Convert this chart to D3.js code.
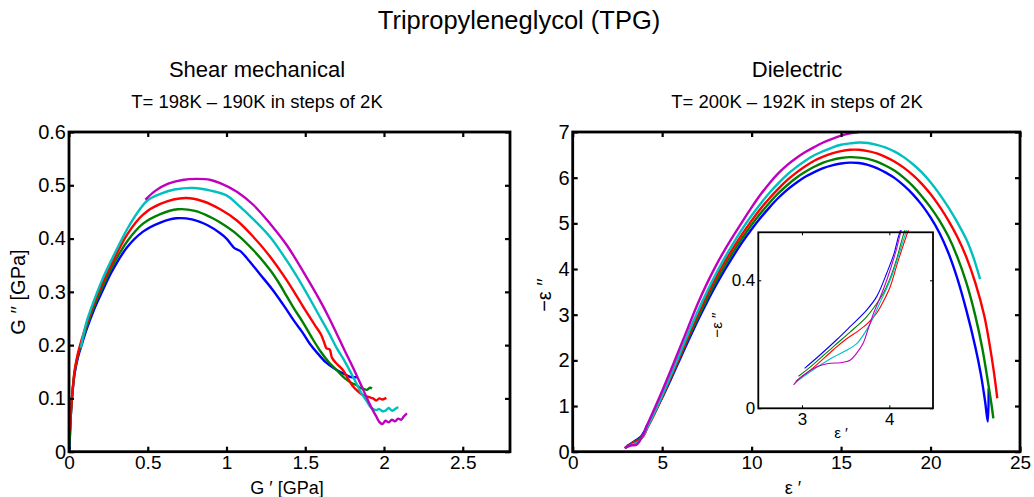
<!DOCTYPE html>
<html>
<head>
<meta charset="utf-8">
<script src="https://cdn.jsdelivr.net/npm/d3@7/dist/d3.min.js"></script>
<style>
  body { margin: 0; background: #fff; }
  svg { display: block; }
  text { font-family: "Liberation Sans", Arial, Helvetica, sans-serif; fill: #000; }
</style>
</head>
<body>
<svg id="chart" width="1034" height="497"></svg>
<script>
// matlab default line order
var seriesColors = ["#0000ff", "#008000", "#ff0000", "#00bfbf", "#bf00bf"];

// ---- shear mechanical: [G', G''] in GPa, T = 198K - 190K ----
var shearBlue = [[0.003,0.004],[0.006,0.03],[0.012,0.07],[0.022,0.11],[0.035,0.145],[0.055,0.175],[0.08,0.2],[0.11,0.228],[0.158,0.266],[0.21,0.3],[0.27,0.337],[0.37,0.384],[0.47,0.413],[0.58,0.43],[0.68,0.438],[0.78,0.436],[0.88,0.425],[0.96,0.41],[1.0,0.4],[1.03,0.389],[1.05,0.382],[1.09,0.376],[1.13,0.363],[1.21,0.334],[1.29,0.305],[1.36,0.276],[1.43,0.245],[1.48,0.225],[1.53,0.202],[1.58,0.184],[1.63,0.168],[1.68,0.157],[1.72,0.15],[1.76,0.144],[1.79,0.14],[1.83,0.14]];
var shearGreen = [[0.003,0.012],[0.007,0.04],[0.013,0.075],[0.023,0.115],[0.036,0.15],[0.056,0.18],[0.08,0.205],[0.11,0.233],[0.158,0.272],[0.21,0.307],[0.27,0.345],[0.37,0.395],[0.47,0.428],[0.58,0.446],[0.69,0.455],[0.8,0.452],[0.9,0.44],[0.96,0.43],[1.066,0.408],[1.171,0.378],[1.277,0.341],[1.33,0.318],[1.382,0.292],[1.43,0.268],[1.487,0.242],[1.54,0.215],[1.593,0.19],[1.65,0.168],[1.7,0.153],[1.75,0.138],[1.8,0.128],[1.82,0.126],[1.85,0.12],[1.87,0.118],[1.89,0.116],[1.91,0.12],[1.924,0.119]];
var shearRed = [[0.006,0.04],[0.013,0.08],[0.024,0.12],[0.037,0.155],[0.057,0.185],[0.08,0.21],[0.11,0.238],[0.158,0.278],[0.21,0.315],[0.27,0.352],[0.37,0.408],[0.47,0.445],[0.58,0.465],[0.74,0.476],[0.85,0.47],[0.96,0.455],[1.066,0.434],[1.171,0.403],[1.277,0.366],[1.382,0.322],[1.487,0.272],[1.56,0.238],[1.6,0.22],[1.62,0.205],[1.635,0.194],[1.655,0.192],[1.67,0.176],[1.7,0.165],[1.74,0.153],[1.77,0.138],[1.8,0.124],[1.84,0.112],[1.87,0.106],[1.9,0.103],[1.93,0.1],[1.95,0.096],[1.97,0.1],[1.99,0.098],[2.015,0.101]];
var shearCyan = [[0.075,0.195],[0.11,0.242],[0.158,0.283],[0.21,0.322],[0.27,0.36],[0.37,0.418],[0.45,0.455],[0.5,0.472],[0.58,0.484],[0.67,0.492],[0.79,0.495],[0.9,0.49],[1.0,0.481],[1.066,0.465],[1.171,0.436],[1.277,0.403],[1.382,0.359],[1.487,0.309],[1.593,0.253],[1.65,0.223],[1.699,0.195],[1.75,0.17],[1.79,0.148],[1.83,0.125],[1.86,0.108],[1.89,0.095],[1.92,0.082],[1.95,0.078],[1.97,0.08],[1.99,0.076],[2.01,0.077],[2.03,0.082],[2.05,0.077],[2.07,0.08],[2.09,0.084]];
var shearMagenta = [[0.485,0.473],[0.55,0.49],[0.63,0.503],[0.72,0.51],[0.81,0.512],[0.9,0.51],[0.96,0.504],[1.066,0.488],[1.171,0.463],[1.277,0.428],[1.382,0.388],[1.487,0.338],[1.593,0.284],[1.65,0.252],[1.699,0.222],[1.75,0.19],[1.8,0.16],[1.85,0.128],[1.888,0.103],[1.92,0.083],[1.951,0.066],[1.97,0.056],[1.99,0.052],[2.01,0.058],[2.03,0.055],[2.05,0.06],[2.07,0.057],[2.09,0.062],[2.11,0.06],[2.125,0.066],[2.146,0.072]];

// ---- dielectric: [eps', -eps''], T = 200K - 192K ----
// low part (what the inset zooms into)
var dielLowBlue = [[3.03,0.125],[3.2,0.165],[3.4,0.215],[3.55,0.255],[3.74,0.307],[3.855,0.349],[3.97,0.422],[4.05,0.48],[4.12,0.55]];
var dielLowGreen = [[2.96,0.1],[3.1,0.13],[3.36,0.193],[3.55,0.238],[3.74,0.286],[3.85,0.325],[3.93,0.359],[4.0,0.4],[4.08,0.463],[4.17,0.55]];
var dielLowRed = [[2.93,0.085],[3.1,0.12],[3.36,0.183],[3.5,0.215],[3.66,0.245],[3.76,0.268],[3.855,0.297],[3.93,0.333],[4.01,0.38],[4.1,0.46],[4.21,0.55]];
var dielLowCyan = [[2.92,0.08],[3.1,0.115],[3.36,0.16],[3.5,0.18],[3.63,0.203],[3.74,0.245],[3.82,0.285],[3.89,0.328],[3.97,0.375],[4.04,0.422],[4.12,0.49],[4.19,0.55]];
var dielLowMagenta = [[2.904,0.073],[3.0,0.1],[3.17,0.13],[3.3,0.14],[3.44,0.1425],[3.55,0.15],[3.62,0.17],[3.7,0.203],[3.76,0.25],[3.82,0.297],[3.9,0.35],[3.97,0.4],[4.08,0.495],[4.13,0.55]];
// rest of the arc
var dielBlue = [[4.5,0.8],[5.0,1.18],[5.5,1.6],[6.0,2.03],[6.5,2.46],[7.0,2.88],[7.5,3.27],[8.0,3.64],[8.5,3.98],[9.0,4.3],[9.5,4.6],[10.0,4.87],[10.5,5.12],[11.0,5.35],[11.5,5.56],[12.0,5.74],[12.5,5.89],[13.0,6.02],[13.5,6.12],[14.0,6.21],[14.5,6.27],[15.0,6.31],[15.5,6.33],[16.0,6.32],[16.5,6.28],[17.0,6.21],[17.5,6.11],[18.0,5.99],[18.5,5.83],[19.0,5.64],[19.5,5.41],[20.0,5.13],[20.5,4.79],[21.0,4.35],[21.5,3.79],[22.0,3.1],[22.5,2.3],[22.8,1.72],[23.05,1.1],[23.2,0.66],[23.25,1.39]];
var dielGreen = [[4.5,0.79],[5.0,1.2],[5.5,1.64],[6.0,2.08],[6.5,2.52],[7.0,2.94],[7.5,3.34],[8.0,3.72],[8.5,4.07],[9.0,4.39],[9.5,4.69],[10.0,4.97],[10.5,5.22],[11.0,5.45],[11.5,5.66],[12.0,5.84],[12.5,6.0],[13.0,6.13],[13.5,6.24],[14.0,6.33],[14.5,6.39],[15.0,6.43],[15.5,6.45],[16.0,6.44],[16.5,6.41],[17.0,6.35],[17.5,6.26],[18.0,6.15],[18.5,6.0],[19.0,5.82],[19.5,5.6],[20.0,5.35],[20.5,5.06],[21.0,4.71],[21.5,4.26],[22.0,3.7],[22.5,2.98],[22.9,2.25],[23.2,1.55],[23.4,1.05],[23.51,0.73]];
var dielRed = [[4.5,0.77],[5.0,1.2],[5.5,1.65],[6.0,2.11],[6.5,2.57],[7.0,3.01],[7.5,3.43],[8.0,3.81],[8.5,4.16],[9.0,4.48],[9.5,4.78],[10.0,5.06],[10.5,5.32],[11.0,5.55],[11.5,5.76],[12.0,5.95],[12.5,6.11],[13.0,6.25],[13.5,6.37],[14.0,6.46],[14.5,6.53],[15.0,6.58],[15.5,6.61],[16.0,6.61],[16.5,6.58],[17.0,6.53],[17.5,6.45],[18.0,6.35],[18.5,6.22],[19.0,6.06],[19.5,5.87],[20.0,5.64],[20.5,5.37],[21.0,5.06],[21.5,4.7],[22.0,4.26],[22.5,3.7],[23.0,2.98],[23.3,2.35],[23.55,1.72],[23.73,1.17]];
var dielCyan = [[4.5,0.8],[5.0,1.23],[5.5,1.69],[6.0,2.16],[6.5,2.63],[7.0,3.08],[7.5,3.5],[8.0,3.89],[8.5,4.25],[9.0,4.58],[9.5,4.89],[10.0,5.17],[10.5,5.43],[11.0,5.67],[11.5,5.88],[12.0,6.07],[12.5,6.23],[13.0,6.37],[13.5,6.49],[14.0,6.58],[14.5,6.66],[15.0,6.72],[15.5,6.75],[16.0,6.77],[16.5,6.76],[17.0,6.72],[17.5,6.66],[18.0,6.57],[18.5,6.45],[19.0,6.3],[19.5,6.12],[20.0,5.9],[20.5,5.64],[21.0,5.35],[21.5,5.02],[22.0,4.65],[22.4,4.25],[22.77,3.78]];
var dielMagenta = [[4.5,0.88],[5.0,1.33],[5.5,1.8],[6.0,2.28],[6.5,2.77],[7.0,3.25],[7.5,3.68],[8.0,4.07],[8.5,4.42],[9.0,4.74],[9.5,5.05],[10.0,5.35],[10.5,5.63],[11.0,5.88],[11.5,6.1],[12.0,6.28],[12.5,6.43],[13.0,6.56],[13.5,6.67],[14.0,6.77],[14.5,6.85],[15.0,6.92],[15.5,6.97],[16.0,7.0]];

// ---- ticks ----
var shearXTicks = [0, 0.5, 1, 1.5, 2, 2.5];
var shearYTicks = [0, 0.1, 0.2, 0.3, 0.4, 0.5, 0.6];
var dielXTicks = [0, 5, 10, 15, 20, 25];
var dielYTicks = [0, 1, 2, 3, 4, 5, 6, 7];
var insetXTicks = [3, 4];
var insetYTicks = [0, 0.4];

var svg = d3.select("#chart");
var clipCount = 0;

function drawPanel(p) {
    var g = svg.append("g");
    var x = d3.scaleLinear().domain(p.xDomain).range([p.left, p.right]);
    var y = d3.scaleLinear().domain(p.yDomain).range([p.bottom, p.top]);

    if (p.background) {
        g.append("rect")
            .attr("x", p.left).attr("y", p.top)
            .attr("width", p.right - p.left).attr("height", p.bottom - p.top)
            .attr("fill", p.background);
    }

    var clipId = "clip" + (clipCount++);
    g.append("clipPath").attr("id", clipId)
        .append("rect")
        .attr("x", p.left).attr("y", p.top - 2)
        .attr("width", p.right - p.left).attr("height", p.bottom - p.top + 2);

    var line = d3.line()
        .x(function (d) { return x(d[0]); })
        .y(function (d) { return y(d[1]); })
        .curve(d3.curveCatmullRom.alpha(0.5));

    g.append("g").attr("clip-path", "url(#" + clipId + ")")
        .selectAll("path")
        .data(p.series)
        .enter().append("path")
        .attr("d", line)
        .attr("fill", "none")
        .attr("stroke", function (d, i) { return seriesColors[i]; })
        .attr("stroke-width", p.lineWidth)
        .attr("stroke-linejoin", "round")
        .attr("stroke-linecap", "butt");

    var fmt = function (d) { return String(d); };
    var axes = [
        [d3.axisBottom(x).tickValues(p.xTicks).tickFormat(fmt).tickPadding(p.xPad), "translate(0," + p.bottom + ")", p.xFont],
        [d3.axisLeft(y).tickValues(p.yTicks).tickFormat(fmt).tickPadding(p.yPad), "translate(" + p.left + ",0)", p.tickFont],
        [d3.axisTop(x).tickValues(p.xTicks).tickFormat(""), "translate(0," + p.top + ")", p.tickFont],
        [d3.axisRight(y).tickValues(p.yTicks).tickFormat(""), "translate(" + p.right + ",0)", p.tickFont]
    ];
    axes.forEach(function (a) {
        var ax = g.append("g").attr("transform", a[1])
            .call(a[0].tickSizeInner(-p.tickLen).tickSizeOuter(0));
        ax.select(".domain").remove();
        ax.selectAll("line").attr("stroke", "#000").attr("stroke-width", p.tickWidth);
        ax.selectAll("text")
            .style("font-family", "'Liberation Sans', Arial, sans-serif")
            .attr("font-size", a[2]).attr("fill", "#000");
    });

    g.append("rect")
        .attr("x", p.left).attr("y", p.top)
        .attr("width", p.right - p.left).attr("height", p.bottom - p.top)
        .attr("fill", "none").attr("stroke", "#000").attr("stroke-width", p.frameWidth);
    return g;
}

function label(txt, px, py, size, rotate) {
    var t = svg.append("text")
        .attr("text-anchor", "middle")
        .attr("font-size", size)
        .text(txt);
    if (rotate) t.attr("transform", "translate(" + px + "," + py + ") rotate(-90)");
    else t.attr("x", px).attr("y", py);
    return t;
}

drawPanel({
    xDomain: [0, 2.8], yDomain: [0, 0.6],
    left: 69, right: 510, top: 132, bottom: 451.7,
    series: [shearBlue, shearGreen, shearRed, shearCyan, shearMagenta],
    xTicks: shearXTicks, yTicks: shearYTicks,
    lineWidth: 2.4, tickLen: 5, tickWidth: 2.2, frameWidth: 2.8,
    tickFont: 20, xFont: 19, xPad: 4, yPad: 3
});

var dielAll = [
    dielLowBlue.concat(dielBlue),
    dielLowGreen.concat(dielGreen),
    dielLowRed.concat(dielRed),
    dielLowCyan.concat(dielCyan),
    dielLowMagenta.concat(dielMagenta)
];

drawPanel({
    xDomain: [0, 25], yDomain: [0, 7],
    left: 572.7, right: 1020, top: 132, bottom: 451.7,
    series: dielAll,
    xTicks: dielXTicks, yTicks: dielYTicks,
    lineWidth: 2.4, tickLen: 5, tickWidth: 2.2, frameWidth: 2.8,
    tickFont: 20, xFont: 19, xPad: 4, yPad: 3
});

drawPanel({
    xDomain: [2.5, 4.5], yDomain: [0, 0.55],
    left: 758.3, right: 933, top: 232.3, bottom: 408.3,
    background: "#fff",
    series: dielAll,
    xTicks: insetXTicks, yTicks: insetYTicks,
    lineWidth: 1.1, tickLen: 3, tickWidth: 1, frameWidth: 1.8,
    tickFont: 17, xFont: 17, xPad: 5, yPad: 3
});

// titles
label("Tripropyleneglycol (TPG)", 519, 29, 25.5);
label("Shear mechanical", 257, 77, 22);
label("T= 198K \u2013 190K in steps of 2K", 257, 108, 18.5);
label("Dielectric", 797, 77, 22);
label("T= 200K \u2013 192K in steps of 2K", 797, 108, 18.5);

// axis labels
label("G \u2032 [GPa]", 287, 493.5, 18);
label("G \u2032\u2032 [GPa]", 25, 292, 20, true);
label("\u03b5 \u2032", 793, 493.5, 18);
label("\u2212\u03b5 \u2032\u2032", 551, 295, 20, true);
label("\u03b5 \u2032", 841, 438, 15);
label("\u2212\u03b5 \u2032\u2032", 722, 325, 15, true);
</script>
</body>
</html>
